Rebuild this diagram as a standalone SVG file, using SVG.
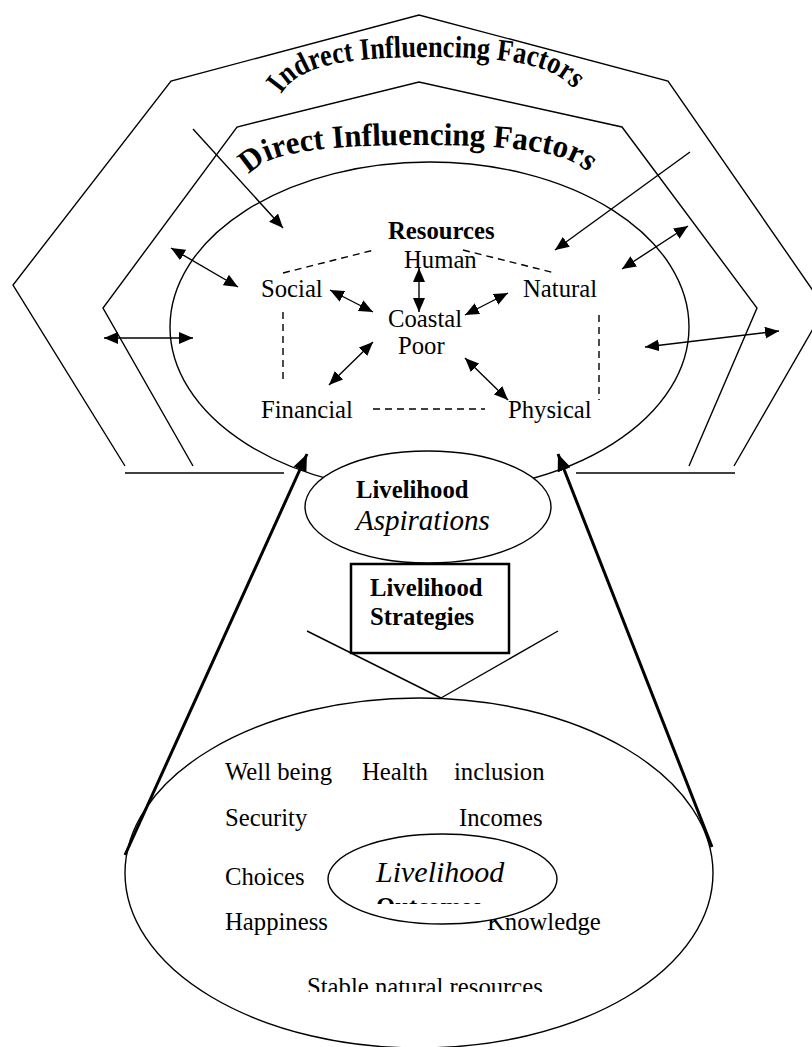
<svg xmlns="http://www.w3.org/2000/svg" width="812" height="1047" viewBox="0 0 812 1047">
<style>
.ln{fill:none;stroke:#000;stroke-width:1.4}
.dash{fill:none;stroke:#000;stroke-width:1.4;stroke-dasharray:7,5}
.thick{fill:none;stroke:#000;stroke-width:3}
.t{font-family:"Liberation Serif","Times New Roman",serif;font-size:24.7px;fill:#000}
.b{font-weight:bold}
.i{font-style:italic}
.arc{font-family:"Liberation Serif","Times New Roman",serif;font-weight:bold;fill:#000}
</style>
<defs>
<marker id="ah" markerUnits="userSpaceOnUse" markerWidth="15" markerHeight="12" refX="14" refY="6" orient="auto-start-reverse"><path d="M0,0 L14,6 L0,12 z" fill="#000"/></marker>
<marker id="ahT" markerUnits="userSpaceOnUse" markerWidth="18" markerHeight="14" refX="17" refY="7" orient="auto"><path d="M0,0 L17,7 L0,14 z" fill="#000"/></marker>
<path id="arcI" d="M 280,96 C 295,70 330,57 429,57 C 528,57 563,70 578,96"/>
<path id="arcD" d="M 248,178 C 258,158 295,145 420,145 C 545,145 582,158 592,180"/>
<clipPath id="clipOut"><rect x="300" y="880" width="260" height="24"/></clipPath>
<clipPath id="clipStable"><rect x="290" y="960" width="280" height="32"/></clipPath>
</defs>

<g id="indirect-factors">
<path class="ln" d="M125,466 L13,285 L171,81 L419,15 L668,81 L825,308 L734,466"/>
<text class="arc" style="font-size:31px"><textPath href="#arcI" startOffset="2" textLength="310" lengthAdjust="spacingAndGlyphs">Indrect Influencing Factors</textPath></text>
</g>

<g id="direct-factors">
<path class="ln" d="M193,466 L103,308 L237,127 L419,82 L622,127 L757,308 L689,466"/>
<text class="arc" style="font-size:32px"><textPath href="#arcD" startOffset="3" textLength="350" lengthAdjust="spacingAndGlyphs">Direct Influencing Factors</textPath></text>
</g>

<g id="base-lines">
<line class="ln" x1="125" y1="473" x2="284" y2="473"/>
<line class="ln" x1="576" y1="473" x2="735" y2="473"/>
</g>

<g id="resources">
<ellipse class="ln" cx="429.5" cy="327" rx="259.5" ry="165"/>
<text class="t b" x="388" y="239">Resources</text>
<text class="t" x="404" y="268">Human</text>
<text class="t" x="261" y="297">Social</text>
<text class="t" x="523" y="297">Natural</text>
<text class="t" x="388" y="327">Coastal</text>
<text class="t" x="398" y="354">Poor</text>
<text class="t" x="261" y="418">Financial</text>
<text class="t" x="508" y="418">Physical</text>
<line class="dash" x1="283" y1="273" x2="374" y2="250"/>
<line class="dash" x1="463" y1="250" x2="555" y2="273"/>
<line class="dash" x1="283" y1="312" x2="283" y2="380"/>
<line class="dash" x1="599" y1="315" x2="599" y2="400"/>
<line class="dash" x1="373" y1="409" x2="485" y2="409"/>
</g>

<g id="connectors">
<line class="ln" x1="193" y1="129" x2="283" y2="228" marker-end="url(#ah)"/>
<line class="ln" x1="690" y1="152" x2="555" y2="250" marker-end="url(#ah)"/>
<line class="ln" x1="171" y1="248" x2="238" y2="287" marker-start="url(#ah)" marker-end="url(#ah)"/>
<line class="ln" x1="104" y1="338" x2="193" y2="338" marker-start="url(#ah)" marker-end="url(#ah)"/>
<line class="ln" x1="688" y1="226" x2="622" y2="269" marker-start="url(#ah)" marker-end="url(#ah)"/>
<line class="ln" x1="779" y1="331" x2="645" y2="347" marker-start="url(#ah)" marker-end="url(#ah)"/>
<line class="ln" x1="330" y1="290" x2="373" y2="312" marker-start="url(#ah)" marker-end="url(#ah)"/>
<line class="ln" x1="419" y1="268" x2="419" y2="312" marker-start="url(#ah)" marker-end="url(#ah)"/>
<line class="ln" x1="508" y1="293" x2="465" y2="315" marker-start="url(#ah)" marker-end="url(#ah)"/>
<line class="ln" x1="329" y1="385" x2="373" y2="342" marker-start="url(#ah)" marker-end="url(#ah)"/>
<line class="ln" x1="465" y1="358" x2="508" y2="400" marker-start="url(#ah)" marker-end="url(#ah)"/>
<line class="ln" x1="307" y1="631" x2="441" y2="698"/>
<line class="ln" x1="441" y1="698" x2="558" y2="631"/>
<line class="thick" x1="125" y1="855" x2="307" y2="454" marker-end="url(#ahT)"/>
<line class="thick" x1="712" y1="847" x2="558" y2="454" marker-end="url(#ahT)"/>
</g>

<g id="aspirations">
<ellipse cx="428" cy="507" rx="123" ry="56" fill="#fff" stroke="#000" stroke-width="1.4"/>
<text class="t b" x="356" y="498">Livelihood</text>
<text class="t i" x="356" y="530" style="font-size:29px">Aspirations</text>
</g>

<g id="strategies">
<rect x="351" y="564" width="158" height="89" fill="#fff" stroke="#000" stroke-width="2.5"/>
<text class="t b" x="370" y="596">Livelihood</text>
<text class="t b" x="370" y="625">Strategies</text>
</g>

<g id="outcomes">
<ellipse class="ln" cx="419" cy="873" rx="294" ry="175"/>
<text class="t" x="225" y="780">Well being</text>
<text class="t" x="362" y="780">Health</text>
<text class="t" x="454" y="780">inclusion</text>
<text class="t" x="225" y="826">Security</text>
<text class="t" x="459" y="826">Incomes</text>
<text class="t" x="225" y="885">Choices</text>
<text class="t" x="225" y="930">Happiness</text>
<text class="t" x="487" y="930">Knowledge</text>
<text class="t" x="307" y="995" clip-path="url(#clipStable)">Stable natural resources</text>
</g>

<g id="outcomes-core">
<ellipse cx="442.5" cy="879" rx="114.5" ry="45" fill="#fff" stroke="#000" stroke-width="1.4"/>
<text class="t i" x="376" y="882" style="font-size:30px">Livelihood</text>
<text class="t b" x="376" y="915" clip-path="url(#clipOut)">Outcomes</text>
</g>
</svg>
